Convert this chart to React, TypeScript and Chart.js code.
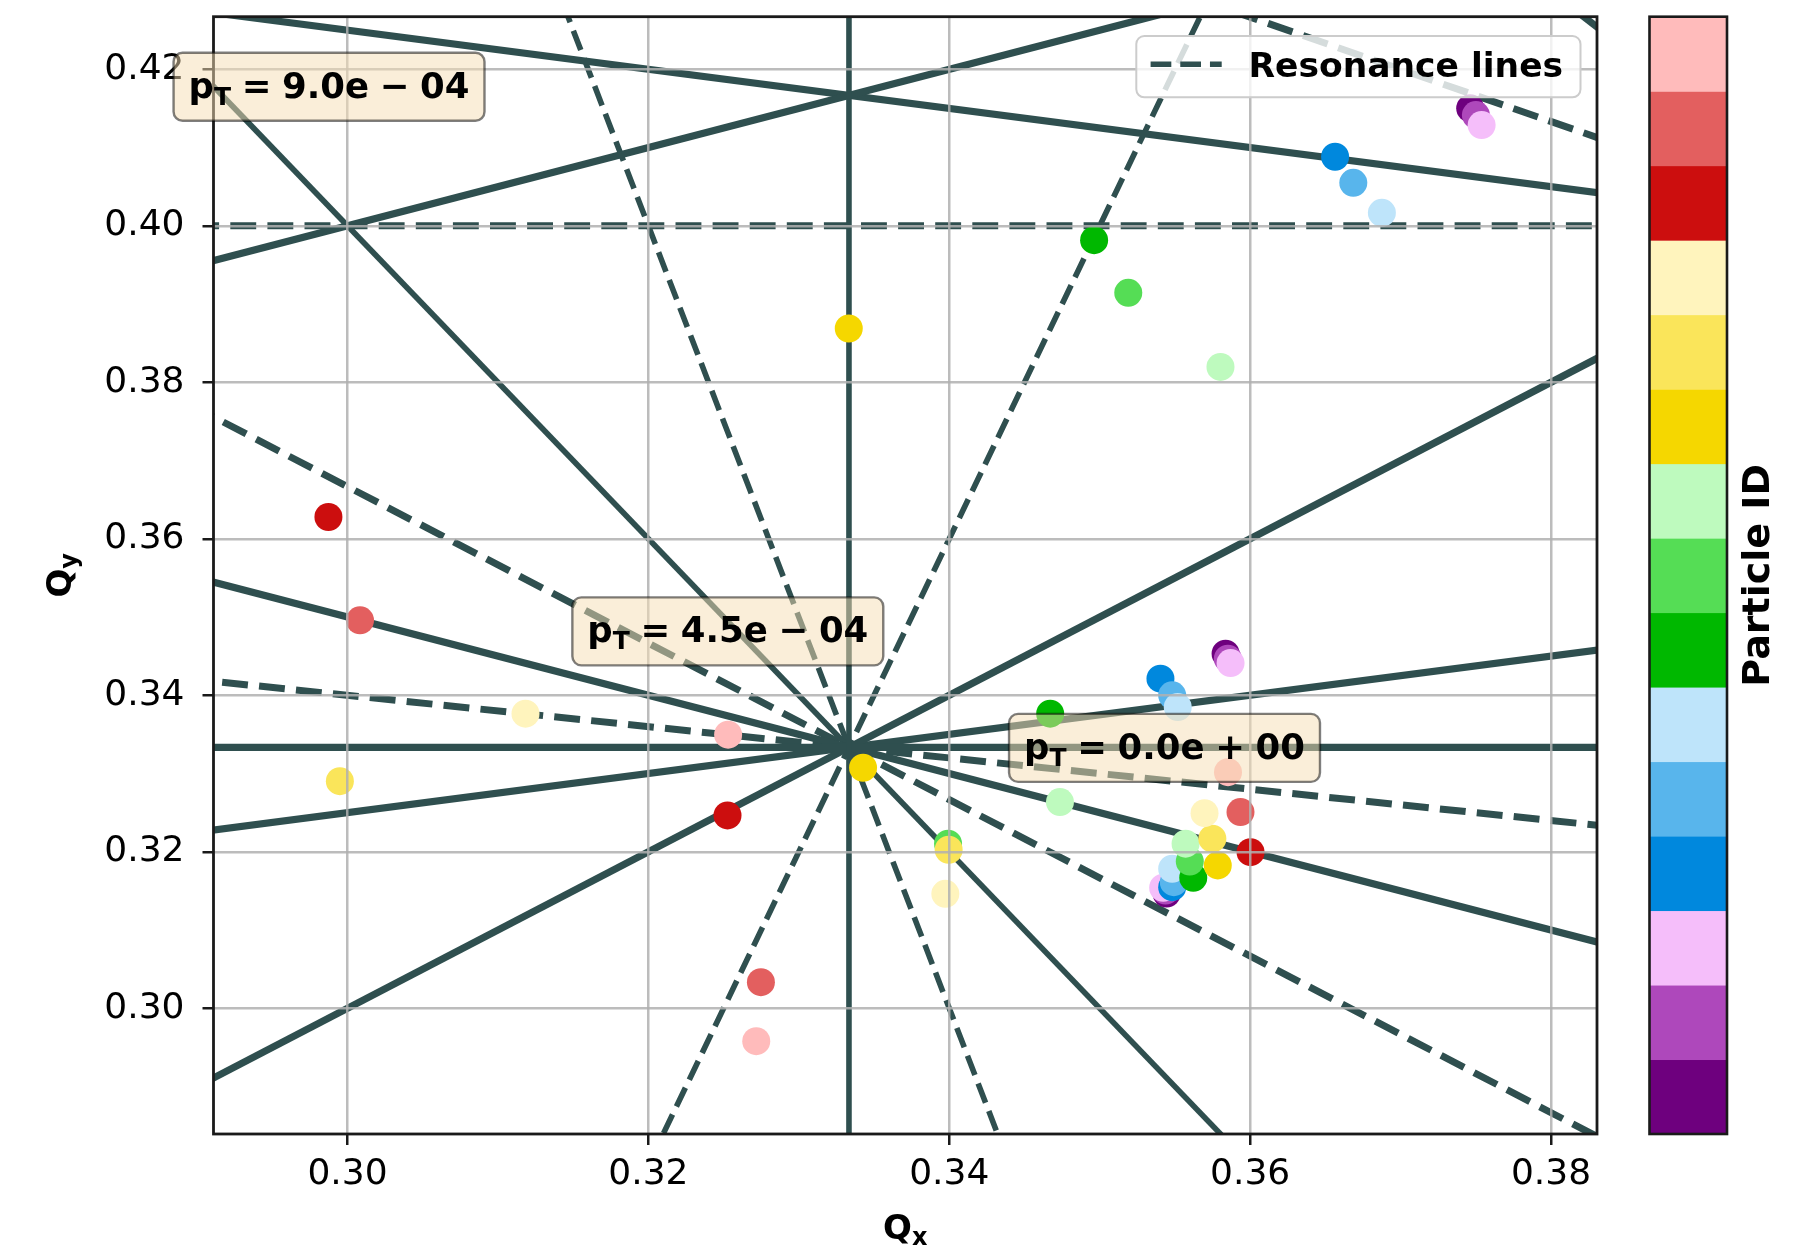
import React, { useEffect, useRef } from 'react';
import { Chart, registerables } from 'chart.js';

Chart.register(...registerables);

// ---- data -------------------------------------------------------------

// particle IDs 0..14 and the colour assigned to each (colorbar, bottom to top)
const PARTICLE_IDS = [0, 1, 2, 3, 4, 5, 6, 7, 8, 9, 10, 11, 12, 13, 14];
const PARTICLE_COLORS = [
  '#6E007E', '#AE48BB', '#F5BEFA',
  '#0088DD', '#58B5EC', '#BEE4FA',
  '#00B800', '#55DD55', '#BEFABE',
  '#F5D700', '#FAE55A', '#FFF4BD',
  '#CC0E0E', '#E35F5F', '#FFBBBB',
];

// transverse momentum offsets of the three tracked sets
const PT_VALUES = [0.0, 4.5e-4, 9.0e-4];

// tunes per particle, pT = 0
const QX_PT0 = [0.35445, 0.35438, 0.35422, 0.35482, 0.35493, 0.35482, 0.35622, 0.35599, 0.35571, 0.35785, 0.35749, 0.35697, 0.36003, 0.35936, 0.35853];
const QY_PT0 = [0.31467, 0.31505, 0.31540, 0.31548, 0.31612, 0.31783, 0.31668, 0.31876, 0.32103, 0.31825, 0.32167, 0.32494, 0.31995, 0.32507, 0.33018];

// tunes per particle, pT = 4.5e-4
const QX_PT1 = [0.35837, 0.35852, 0.35870, 0.35404, 0.35482, 0.35519, 0.34671, 0.33992, 0.34736, 0.33427, 0.33996, 0.33974, 0.32526, 0.32748, 0.32717];
const QY_PT1 = [0.34532, 0.34468, 0.34412, 0.34213, 0.33999, 0.33849, 0.33765, 0.32103, 0.32635, 0.33074, 0.32026, 0.31463, 0.32465, 0.30333, 0.29579];

// tunes per particle, pT = 9.0e-4
const QX_PT2 = [0.37463, 0.37501, 0.37539, 0.36565, 0.36686, 0.36876, 0.34963, 0.35190, 0.35803, 0.33332, 0.29949, 0.31183, 0.29873, 0.30083, 0.32530];
const QY_PT2 = [0.41502, 0.41416, 0.41288, 0.40883, 0.40550, 0.40167, 0.39817, 0.39144, 0.38197, 0.38688, 0.32903, 0.33765, 0.36279, 0.34958, 0.33497];

// where each pT annotation is anchored (Qx, Qy), same order as PT_VALUES
const PT_LABEL_QX = [0.35431, 0.32528, 0.29877];
const PT_LABEL_QY = [0.33328, 0.34817, 0.41778];

// resonance lines  m*Qx + n*Qy = p
const RES_M = [3, 0, 1, 1, 1, 2, -2, 1, 3, 5, 4, 3, 1, 2, 0];
const RES_N = [0, 3, -1, -4, 2, 1, 4, 4, 2, 1, -1, 3, 5, 3, 5];
const RES_P = [1, 1, 0, -1, 1, 1, 1, 2, 2, 2, 1, 2, 2, 2, 2];
const RES_DASHED = [false, false, false, false, false, false, false, false, false, true, true, true, true, true, true];

// axes
const QX_RANGE = [0.29109, 0.38306];
const QY_RANGE = [0.28393, 0.42673];
const X_TICKS = [0.30, 0.32, 0.34, 0.36, 0.38];
const Y_TICKS = [0.30, 0.32, 0.34, 0.36, 0.38, 0.40, 0.42];

// ---- styles -------------------------------------------------------------

const LINE_COLOR = '#2F4F4F';
const RES_LINE_WIDTH = [5.6, 7.2, 7.2, 7.2, 7.2, 5.6, 7.2, 7.2, 7.2, 5.6, 5.6, 7.0, 7.0, 7.0, 7.0];
const FONT = '"DejaVu Sans"';
const CANVAS_W = 1793;
const CANVAS_H = 1254;
const PLOT = { left: 213.5, top: 16.7, right: 1597, bottom: 1134 };

function resonanceSegment(m: number, n: number, p: number) {
  if (n === 0) {
    const x = p / m;
    return [{ x, y: QY_RANGE[0] - 0.1 }, { x, y: QY_RANGE[1] + 0.1 }];
  }
  const x0 = QX_RANGE[0] - 0.1;
  const x1 = QX_RANGE[1] + 0.1;
  return [{ x: x0, y: (p - m * x0) / n }, { x: x1, y: (p - m * x1) / n }];
}

// "9.0e-04" style pieces: mantissa+e, sign, two-digit exponent
function ptPieces(v: number) {
  const [mant, e] = v.toExponential(1).split('e');
  const ei = parseInt(e, 10);
  return { mant: `${mant}e`, sign: ei < 0 ? '\u2212' : '+', exp: String(Math.abs(ei)).padStart(2, '0') };
}

type Part = { t: string; sub?: boolean; gap?: number };

function partWidth(ctx: CanvasRenderingContext2D, p: Part, size: number, subSize: number) {
  if (p.gap !== undefined) return p.gap * size;
  ctx.font = `bold ${p.sub ? subSize : size}px ${FONT}`;
  return ctx.measureText(p.t).width;
}

function measureMath(ctx: CanvasRenderingContext2D, parts: Part[], size: number, subSize: number) {
  return parts.reduce((acc, p) => acc + partWidth(ctx, p, size, subSize), 0);
}

function drawMath(ctx: CanvasRenderingContext2D, parts: Part[], x: number, y: number,
  size: number, subSize: number, subShift: number, align: 'left' | 'center') {
  const total = measureMath(ctx, parts, size, subSize);
  let cx = align === 'center' ? x - total / 2 : x;
  ctx.textAlign = 'left';
  ctx.textBaseline = 'alphabetic';
  parts.forEach((p) => {
    const w = partWidth(ctx, p, size, subSize);
    if (p.gap === undefined) {
      ctx.font = `bold ${p.sub ? subSize : size}px ${FONT}`;
      ctx.fillText(p.t, cx, p.sub ? y + subShift : y);
    }
    cx += w;
  });
  return total;
}

const decorPlugin = {
  id: 'decor',
  afterDraw(chart: any) {
    const { ctx, chartArea: a, scales } = chart;
    const xs = scales.x;
    const ys = scales.y;
    ctx.save();

    // axes frame
    ctx.strokeStyle = '#1a1a1a';
    ctx.lineWidth = 2.8;
    ctx.strokeRect(a.left, a.top, a.right - a.left, a.bottom - a.top);

    // axis titles
    ctx.fillStyle = '#000';
    drawMath(ctx, [{ t: 'Q' }, { t: 'x', sub: true }], (a.left + a.right) / 2, 1239, 34, 24, 6, 'center');
    ctx.save();
    ctx.translate(71, (a.top + a.bottom) / 2);
    ctx.rotate(-Math.PI / 2);
    drawMath(ctx, [{ t: 'Q' }, { t: 'y', sub: true }], 0, 0, 34, 24, 6, 'center');
    ctx.restore();

    // pT annotations
    PT_VALUES.forEach((v, i) => {
      const pc = ptPieces(v);
      const g = 0.3;
      const parts: Part[] = [
        { t: 'p' }, { t: 'T', sub: true }, { t: '', gap: g }, { t: '=' }, { t: '', gap: g },
        { t: pc.mant }, { t: '', gap: g }, { t: pc.sign }, { t: '', gap: g }, { t: pc.exp },
      ];
      const size = 35.5;
      const sub = 25;
      const tw = measureMath(ctx, parts, size, sub);
      const cx = xs.getPixelForValue(PT_LABEL_QX[i]);
      const cy = ys.getPixelForValue(PT_LABEL_QY[i]);
      const bw = tw + 30;
      const bh = 68;
      ctx.beginPath();
      ctx.roundRect(cx - bw / 2, cy - bh / 2, bw, bh, 9);
      ctx.fillStyle = 'rgba(245,222,179,0.5)';
      ctx.fill();
      ctx.lineWidth = 2.4;
      ctx.strokeStyle = 'rgba(0,0,0,0.5)';
      ctx.stroke();
      ctx.fillStyle = '#000';
      drawMath(ctx, parts, cx - tw / 2, cy + 11, size, sub, 7, 'left');
    });

    // legend
    const lx = 1136.3, ly = 36, lw = 444.2, lh = 61.3;
    ctx.beginPath();
    ctx.roundRect(lx, ly, lw, lh, 8);
    ctx.fillStyle = 'rgba(255,255,255,0.8)';
    ctx.fill();
    ctx.lineWidth = 2;
    ctx.strokeStyle = '#cccccc';
    ctx.stroke();
    const legendWidth = RES_LINE_WIDTH[RES_DASHED.indexOf(true)];
    ctx.beginPath();
    ctx.setLineDash([3.7 * legendWidth, 1.6 * legendWidth]);
    ctx.lineWidth = legendWidth;
    ctx.strokeStyle = LINE_COLOR;
    ctx.moveTo(1150.6, 64.3);
    ctx.lineTo(1221.7, 64.3);
    ctx.stroke();
    ctx.setLineDash([]);
    ctx.fillStyle = '#000';
    ctx.font = `bold 34.5px ${FONT}`;
    ctx.textAlign = 'left';
    ctx.textBaseline = 'alphabetic';
    ctx.fillText('Resonance lines', 1248.5, 76.7);

    // colorbar for particle ID
    const cbL = 1649.5, cbR = 1727;
    const segH = (a.bottom - a.top) / PARTICLE_IDS.length;
    PARTICLE_IDS.forEach((id) => {
      const top = a.bottom - (id + 1) * segH;
      ctx.fillStyle = PARTICLE_COLORS[id];
      ctx.fillRect(cbL, top, cbR - cbL, segH + 0.5);
    });
    ctx.strokeStyle = '#1a1a1a';
    ctx.lineWidth = 2.6;
    ctx.strokeRect(cbL, a.top, cbR - cbL, a.bottom - a.top);
    ctx.save();
    ctx.translate(1769, (a.top + a.bottom) / 2);
    ctx.rotate(-Math.PI / 2);
    ctx.fillStyle = '#000';
    ctx.font = `bold 38px ${FONT}`;
    ctx.textAlign = 'center';
    ctx.fillText('Particle ID', 0, 0);
    ctx.restore();

    ctx.restore();
  },
};

export default function App() {
  const canvasRef = useRef<HTMLCanvasElement | null>(null);

  useEffect(() => {
    const canvas = canvasRef.current;
    if (!canvas) return;

    const lineDatasets = RES_M.map((m, i) => ({
      label: 'Resonance lines',
      data: resonanceSegment(m, RES_N[i], RES_P[i]),
      showLine: true,
      borderColor: LINE_COLOR,
      borderWidth: RES_LINE_WIDTH[i],
      borderDash: RES_DASHED[i] ? [3.7 * RES_LINE_WIDTH[i], 1.6 * RES_LINE_WIDTH[i]] : [],
      borderCapStyle: 'butt' as const,
      pointRadius: 0,
      fill: false,
      clip: 0,
      order: 10,
    }));

    const sets = [
      { qx: QX_PT0, qy: QY_PT0 },
      { qx: QX_PT1, qy: QY_PT1 },
      { qx: QX_PT2, qy: QY_PT2 },
    ];
    const pointDatasets = sets.map((s, k) => ({
      label: `pT ${PT_VALUES[k]}`,
      data: PARTICLE_IDS.map((id) => ({ x: s.qx[id], y: s.qy[id] })),
      backgroundColor: PARTICLE_IDS.map((id) => PARTICLE_COLORS[id]),
      borderWidth: 0,
      pointRadius: 14,
      pointBorderWidth: 0,
      showLine: false,
      order: 5 - k,
    }));

    const gridOpts = {
      color: 'rgba(176,176,176,0.85)',
      lineWidth: 2.5,
      z: 1,
      drawTicks: true,
      tickLength: 11,
      tickColor: '#1a1a1a',
      tickWidth: 2.5,
    };

    const chart = new Chart(canvas, {
      type: 'scatter',
      data: { datasets: [...lineDatasets, ...pointDatasets] as any },
      options: {
        animation: false,
        responsive: false,
        devicePixelRatio: 1,
        events: [],
        layout: { padding: { top: PLOT.top, right: CANVAS_W - PLOT.right, bottom: 0, left: 0 } },
        plugins: { legend: { display: false }, tooltip: { enabled: false } },
        scales: {
          x: {
            type: 'linear',
            min: QX_RANGE[0],
            max: QX_RANGE[1],
            afterBuildTicks: (s: any) => { s.ticks = X_TICKS.map((v) => ({ value: v })); },
            afterFit: (s: any) => {
              s.height = CANVAS_H - PLOT.bottom;
              s.paddingLeft = 0; s.paddingRight = 0; s.paddingTop = 0; s.paddingBottom = 0;
            },
            grid: gridOpts,
            border: { display: false },
            ticks: {
              color: '#000',
              padding: 8,
              maxRotation: 0,
              font: { family: FONT, size: 36 },
              callback: (v: any) => Number(v).toFixed(2),
            },
          },
          y: {
            type: 'linear',
            min: QY_RANGE[0],
            max: QY_RANGE[1],
            afterBuildTicks: (s: any) => { s.ticks = Y_TICKS.map((v) => ({ value: v })); },
            afterFit: (s: any) => {
              s.width = PLOT.left;
              s.paddingLeft = 0; s.paddingRight = 0; s.paddingTop = 0; s.paddingBottom = 0;
            },
            grid: gridOpts,
            border: { display: false },
            ticks: {
              color: '#000',
              padding: 18,
              font: { family: FONT, size: 36 },
              callback: (v: any) => Number(v).toFixed(2),
            },
          },
        },
      } as any,
      plugins: [decorPlugin],
    });

    return () => chart.destroy();
  }, []);

  return (
    <div style={{ position: 'fixed', left: 0, top: 0, width: CANVAS_W, height: CANVAS_H, background: '#fff' }}>
      <canvas ref={canvasRef} width={CANVAS_W} height={CANVAS_H} style={{ display: 'block', width: CANVAS_W, height: CANVAS_H }} />
    </div>
  );
}
